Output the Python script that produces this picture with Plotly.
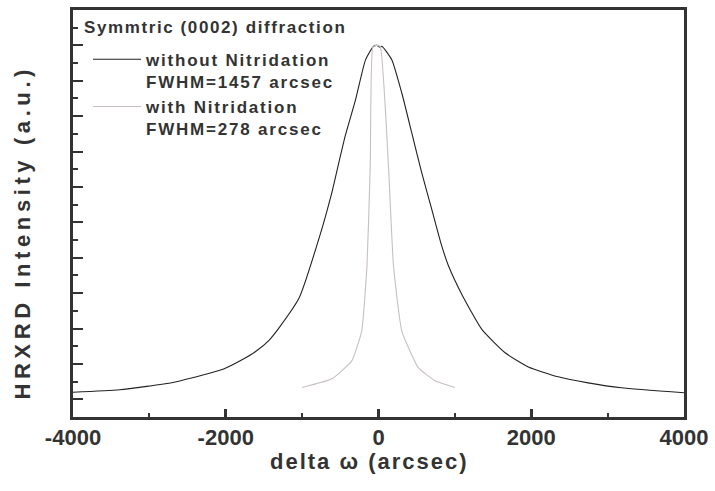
import plotly.graph_objects as go

# ---- data (intensity in arbitrary units) ----
x_without = [-4000, -3390, -2690, -2300, -2036, -1775, -1600, -1430, -1300, -1040, -780, -610,
             -545, -435, -300, -170, -65, -20, 20, 45, 175, 305, 435, 565, 695, 825, 912,
             1093, 1353, 1658, 1962, 2353, 2744, 3179, 4000]
y_without = [1.40, 1.54, 1.95, 2.37, 2.70, 3.26, 3.73, 4.35, 5.05, 6.72, 10.08, 12.70,
             13.90, 15.90, 17.94, 20.18, 20.95, 21.0, 20.9, 20.95, 20.18, 18.31, 16.07, 13.82,
             11.77, 9.71, 8.59, 6.91, 4.95, 3.63, 2.83, 2.27, 1.93, 1.65, 1.37]

x_with = [-1000, -610, -350, -220, -150, -108, -75, -30, 22, 130, 195, 305, 520, 740, 1000]
y_with = [1.67, 2.16, 3.17, 4.85, 8.61, 14.22, 20.9, 21.0, 20.95, 14.22, 8.61, 4.85, 2.79,
          2.05, 1.67]

name_without = "without Nitridation<br>FWHM=1457 arcsec"
name_with = "with Nitridation<br>FWHM=278 arcsec"
legend_title = "Symmtric (0002) diffraction"
x_title = "delta ω (arcsec)"
y_title = "HRXRD Intensity (a.u.)"
x_tickvals = [-4000, -2000, 0, 2000, 4000]
x_ticktext = ["-4000", "-2000", "0", "2000", "4000"]

FONT = "Liberation Sans, Arial, Helvetica, sans-serif"
INK = "#333333"

fig = go.Figure()
fig.add_trace(go.Scatter(x=x_without, y=y_without, mode="lines", name=name_without,
                         line=dict(color="#222222", width=1.1, shape="spline", smoothing=0.5)))
fig.add_trace(go.Scatter(x=x_with, y=y_with, mode="lines", name=name_with,
                         line=dict(color="#c8bfbf", width=1.1, shape="spline", smoothing=0.4)))

fig.update_layout(
    width=715, height=491,
    margin=dict(l=73, r=29, t=7, b=74),
    paper_bgcolor="white", plot_bgcolor="white",
    font=dict(family=FONT, color=INK),
    showlegend=True,
    legend=dict(
        x=0.0245, y=0.922, xanchor="left", yanchor="top",
        bgcolor="rgba(0,0,0,0)", itemwidth=48, valign="top", tracegroupgap=0,
        font=dict(family=FONT, size=17, color=INK, weight="bold"),
    ),
    xaxis=dict(
        range=[-4000, 4000], showgrid=False, zeroline=False,
        showline=True, linewidth=2.5, linecolor=INK, mirror=True,
        tickmode="array", tickvals=x_tickvals, ticktext=x_ticktext,
        ticks="inside", ticklen=8, tickwidth=2.5, tickcolor=INK,
        minor=dict(dtick=1000, tick0=-4000, ticks="inside", ticklen=4, tickwidth=2, tickcolor=INK),
        tickfont=dict(family=FONT, size=22, color=INK, weight="bold"),
        ticklabelstandoff=-1,
    ),
    yaxis=dict(
        range=[0, 23], showgrid=False, zeroline=False,
        showline=True, linewidth=2.5, linecolor=INK, mirror=True,
        showticklabels=False,
        tick0=1, dtick=2, ticks="inside", ticklen=10, tickwidth=2, tickcolor=INK,
        minor=dict(dtick=1, tick0=0, ticks="inside", ticklen=5, tickwidth=2, tickcolor=INK),
    ),
    annotations=[
        dict(text=x_title, xref="paper", yref="paper", x=0.486, y=-0.11,
             xanchor="center", yanchor="middle", showarrow=False,
             font=dict(family=FONT, size=22, color=INK, weight="bold")),
        dict(text=y_title, xref="paper", yref="paper", x=-0.0816, y=0.4524,
             xanchor="center", yanchor="middle", textangle=-90, showarrow=False,
             font=dict(family=FONT, size=22, color=INK, weight="bold")),
        dict(text=legend_title, xref="paper", yref="paper", x=0.0147, y=0.956,
             xanchor="left", yanchor="middle", align="left", showarrow=False,
             font=dict(family=FONT, size=17, color=INK, weight="bold")),
    ],
)

post = """
document.body.style.margin = '0';
document.documentElement.style.overflow = 'hidden';
document.querySelectorAll('.legend [clip-path]').forEach(function(e){ e.removeAttribute('clip-path'); });
document.querySelectorAll('.legendtext').forEach(function(e){ e.style.letterSpacing = '1.8px'; });
document.querySelectorAll('.annotation-text').forEach(function(e){
  var t = e.textContent;
  if (t.indexOf('HRXRD') >= 0) { e.style.letterSpacing = '4.6px'; }
  else if (t.indexOf('delta') >= 0) { e.style.letterSpacing = '2px'; }
  else if (t.indexOf('Symmtric') >= 0) { e.style.letterSpacing = '1.6px'; }
});
"""

fig.write_html("out.html", post_script=post, config={"displayModeBar": False})
